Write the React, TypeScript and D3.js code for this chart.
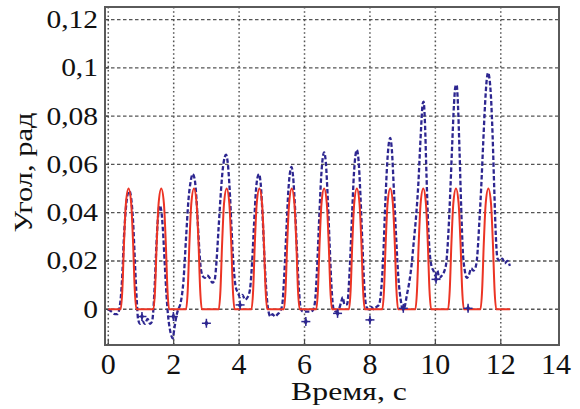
import React from "react";
import * as d3 from "d3";

const W = 580;
const H = 409;

const xTicks = [0, 2, 4, 6, 8, 10, 12, 14];
const xGrid = [0, 2, 4, 6, 8, 10, 12];
const yTicks = [0, 0.02, 0.04, 0.06, 0.08, 0.1, 0.12];
const yTickLabels = ["0", "0,02", "0,04", "0,06", "0,08", "0,1", "0,12"];
const xLabel = "Время, с";
const yLabel = "Угол, рад";

// reference signal (red)
const redSeries: [number, number][] = [
  [0, 0],
  [0.38, 0], [0.43, 0.008], [0.48, 0.027], [0.54, 0.044], [0.62, 0.05], [0.7, 0.044], [0.76, 0.027], [0.81, 0.008], [0.86, 0],
  [1.38, 0], [1.43, 0.008], [1.48, 0.027], [1.54, 0.044], [1.62, 0.05], [1.7, 0.044], [1.76, 0.027], [1.81, 0.008], [1.86, 0],
  [2.38, 0], [2.43, 0.008], [2.48, 0.027], [2.54, 0.044], [2.62, 0.05], [2.7, 0.044], [2.76, 0.027], [2.81, 0.008], [2.86, 0],
  [3.38, 0], [3.43, 0.008], [3.48, 0.027], [3.54, 0.044], [3.62, 0.05], [3.7, 0.044], [3.76, 0.027], [3.81, 0.008], [3.86, 0],
  [4.38, 0], [4.43, 0.008], [4.48, 0.027], [4.54, 0.044], [4.62, 0.05], [4.7, 0.044], [4.76, 0.027], [4.81, 0.008], [4.86, 0],
  [5.37, 0], [5.42, 0.008], [5.47, 0.027], [5.53, 0.044], [5.61, 0.05], [5.69, 0.044], [5.75, 0.027], [5.8, 0.008], [5.85, 0],
  [6.36, 0], [6.41, 0.008], [6.46, 0.027], [6.52, 0.044], [6.6, 0.05], [6.68, 0.044], [6.74, 0.027], [6.79, 0.008], [6.84, 0],
  [7.36, 0], [7.41, 0.008], [7.46, 0.027], [7.52, 0.044], [7.6, 0.05], [7.68, 0.044], [7.74, 0.027], [7.79, 0.008], [7.84, 0],
  [8.38, 0], [8.43, 0.008], [8.48, 0.027], [8.54, 0.044], [8.62, 0.05], [8.7, 0.044], [8.76, 0.027], [8.81, 0.008], [8.86, 0],
  [9.39, 0], [9.44, 0.008], [9.49, 0.027], [9.55, 0.044], [9.63, 0.05], [9.71, 0.044], [9.77, 0.027], [9.82, 0.008], [9.87, 0],
  [10.39, 0], [10.44, 0.008], [10.49, 0.027], [10.55, 0.044], [10.63, 0.05], [10.71, 0.044], [10.77, 0.027], [10.82, 0.008], [10.87, 0],
  [11.38, 0], [11.43, 0.008], [11.48, 0.027], [11.54, 0.044], [11.62, 0.05], [11.7, 0.044], [11.76, 0.027], [11.81, 0.008], [11.86, 0],
  [12.28, 0],
];

// measured signal (blue dashed)
const blueSeries: [number, number][] = [
  [0, 0], [0.1, -0.001], [0.2, -0.002], [0.28, -0.002], [0.36, 0.002], [0.42, 0.012], [0.48, 0.03], [0.54, 0.042], [0.6, 0.048], [0.65, 0.049], [0.7, 0.046], [0.76, 0.036], [0.82, 0.018], [0.87, 0.004], [0.91, -0.004], [0.97, -0.006], [1.05, -0.005], [1.12, -0.006], [1.2, -0.004], [1.28, -0.006], [1.34, -0.005], [1.38, 0.0],
  [1.42, 0.01], [1.47, 0.026], [1.52, 0.038], [1.57, 0.043], [1.62, 0.041], [1.67, 0.033], [1.73, 0.018], [1.78, 0.006], [1.83, -0.003], [1.88, -0.008], [1.93, -0.011], [1.97, -0.012], [2.02, -0.008], [2.08, -0.003], [2.14, 0.0], [2.2, 0.002],
  [2.3, 0.012], [2.38, 0.03], [2.45, 0.045], [2.52, 0.053], [2.58, 0.056], [2.64, 0.054], [2.7, 0.045], [2.76, 0.03], [2.82, 0.018], [2.88, 0.014], [2.95, 0.013], [3.02, 0.014], [3.1, 0.013], [3.18, 0.011], [3.25, 0.012], [3.31, 0.02],
  [3.37, 0.033], [3.44, 0.048], [3.5, 0.058], [3.56, 0.063], [3.6, 0.064], [3.65, 0.061], [3.71, 0.05], [3.77, 0.033], [3.83, 0.018], [3.9, 0.009], [3.96, 0.007], [4.03, 0.005], [4.1, 0.006], [4.18, 0.004], [4.26, 0.005], [4.33, 0.008],
  [4.4, 0.02], [4.46, 0.036], [4.52, 0.05], [4.57, 0.055], [4.61, 0.056], [4.66, 0.052], [4.72, 0.038], [4.78, 0.02], [4.84, 0.006], [4.9, -0.001], [4.96, -0.003], [5.02, -0.002], [5.1, -0.003], [5.18, -0.002], [5.25, -0.001], [5.32, 0.002],
  [5.38, 0.014], [5.45, 0.034], [5.51, 0.05], [5.56, 0.057], [5.6, 0.059], [5.65, 0.055], [5.71, 0.042], [5.77, 0.024], [5.83, 0.008], [5.89, 0.0], [5.96, -0.001], [6.05, -0.001], [6.15, -0.001], [6.25, -0.0005], [6.32, 0.003],
  [6.38, 0.016], [6.45, 0.038], [6.51, 0.055], [6.56, 0.063], [6.6, 0.065], [6.65, 0.061], [6.71, 0.046], [6.77, 0.026], [6.83, 0.008], [6.89, 0.0], [6.96, -0.001], [7.05, 0.0], [7.12, 0.003], [7.17, 0.005], [7.22, 0.002], [7.3, 0.002],
  [7.38, 0.016], [7.45, 0.038], [7.51, 0.056], [7.56, 0.064], [7.6, 0.066], [7.65, 0.062], [7.71, 0.047], [7.77, 0.027], [7.83, 0.009], [7.89, 0.001], [7.96, 0.0], [8.04, 0.001], [8.12, 0.0], [8.2, 0.001], [8.28, 0.002], [8.33, 0.006],
  [8.4, 0.02], [8.47, 0.044], [8.53, 0.061], [8.58, 0.069], [8.62, 0.071], [8.67, 0.066], [8.73, 0.05], [8.8, 0.03], [8.87, 0.013], [8.94, 0.004], [9.0, 0.0], [9.06, 0.001], [9.13, 0.006], [9.2, 0.011],
  [9.27, 0.018], [9.34, 0.028], [9.42, 0.04], [9.48, 0.052], [9.53, 0.066], [9.58, 0.079], [9.61, 0.085], [9.64, 0.086], [9.68, 0.078], [9.73, 0.055], [9.78, 0.035], [9.83, 0.023], [9.88, 0.018], [9.94, 0.016], [10.0, 0.014], [10.06, 0.016], [10.12, 0.013], [10.2, 0.014], [10.28, 0.016], [10.34, 0.02],
  [10.4, 0.032], [10.46, 0.05], [10.52, 0.07], [10.57, 0.085], [10.61, 0.092], [10.65, 0.093], [10.69, 0.085], [10.74, 0.065], [10.79, 0.042], [10.84, 0.024], [10.9, 0.016], [10.96, 0.013], [11.02, 0.014], [11.1, 0.017], [11.16, 0.016], [11.22, 0.017], [11.28, 0.022],
  [11.34, 0.035], [11.4, 0.05], [11.46, 0.068], [11.52, 0.085], [11.57, 0.095], [11.61, 0.098], [11.65, 0.096], [11.7, 0.088], [11.75, 0.072], [11.8, 0.05], [11.85, 0.03], [11.9, 0.021], [11.98, 0.02], [12.05, 0.021], [12.12, 0.019], [12.2, 0.02], [12.28, 0.018],
];

// sampled points (blue markers)
const markerPoints: [number, number][] = [
  [1.03, -0.003], [1.99, -0.003], [3.0, -0.0058], [4.03, 0.0018], [6.04, -0.0051],
  [7.01, -0.0017], [8.0, -0.0044], [9.02, 0.0004], [10.02, 0.0124], [11.0, 0.0004],
];

const PLOT = { left: 105, right: 559, top: 7, bottom: 345 };

const FONT = '"Liberation Serif", "Times New Roman", Times, serif';

export default function App() {
  const x = d3.scaleLinear().domain([-0.1, 13.78]).range([PLOT.left, PLOT.right]);
  const y = d3.scaleLinear().domain([-0.0148, 0.1252]).range([PLOT.bottom, PLOT.top]);

  const line = d3
    .line<[number, number]>()
    .x((d) => x(d[0]))
    .y((d) => y(d[1]))
    .curve(d3.curveMonotoneX);

  const gridColor = "#555";
  const blue = "#2d2690";
  const red = "#ec3424";
  const txt = { fontFamily: FONT };

  return (
    <svg
      width={W}
      height={H}
      style={{ position: "absolute", left: 0, top: 0, background: "#fff" }}
    >
      <rect x={0} y={0} width={W} height={H} fill="#fff" />
      {/* grid */}
      {yTicks.map((v) => (
        <line
          key={"hy" + v}
          x1={PLOT.left}
          x2={PLOT.right}
          y1={y(v)}
          y2={y(v)}
          stroke={gridColor}
          strokeWidth={1.3}
          strokeDasharray="3.5,2.5"
        />
      ))}
      {xGrid.map((t) => (
        <line
          key={"vx" + t}
          x1={x(t)}
          x2={x(t)}
          y1={PLOT.top}
          y2={PLOT.bottom}
          stroke={gridColor}
          strokeWidth={1.5}
          strokeDasharray="1.6,2.6"
        />
      ))}
      {/* inward ticks */}
      {yTicks.map((v) => (
        <line key={"ty" + v} x1={PLOT.left} x2={PLOT.left + 4} y1={y(v)} y2={y(v)} stroke="#444" strokeWidth={1.2} />
      ))}
      {xGrid.map((t) => (
        <line key={"tx" + t} x1={x(t)} x2={x(t)} y1={PLOT.bottom} y2={PLOT.bottom - 5} stroke="#444" strokeWidth={1.2} />
      ))}

      {/* blue dashed measured */}
      <path d={line(blueSeries) || ""} fill="none" stroke={blue} strokeWidth={2.3} strokeDasharray="4.5,2.3" />
      {/* red reference */}
      <path d={line(redSeries) || ""} fill="none" stroke={red} strokeWidth={2} />

      {/* markers */}
      {markerPoints.map((p, i) => {
        const cx = x(p[0]);
        const cy = y(p[1]);
        return (
          <g key={"m" + i} transform={`translate(${cx},${cy})`}>
            <line x1={-4.5} x2={4.5} y1={0} y2={0} stroke={blue} strokeWidth={1.5} />
            <line x1={0} x2={0} y1={-4.5} y2={4.5} stroke={blue} strokeWidth={1.5} />
            <path d={d3.symbol().type(d3.symbolDiamond).size(14)() || ""} fill={blue} />
          </g>
        );
      })}

      {/* frame */}
      <rect
        x={PLOT.left}
        y={PLOT.top}
        width={PLOT.right - PLOT.left}
        height={PLOT.bottom - PLOT.top}
        fill="none"
        stroke="#5a5a5a"
        strokeWidth={2}
      />

      {/* y tick labels */}
      {yTicks.map((v, i) => (
        <text
          key={"yl" + v}
          transform={`translate(98,${y(v) + 8.5}) scale(1.18,1)`}
          textAnchor="end"
          fontSize={25}
          fill="#111"
          style={txt}
        >
          {yTickLabels[i]}
        </text>
      ))}
      {/* x tick labels */}
      {xTicks.map((t) => (
        <text
          key={"xl" + t}
          x={Math.min(x(t), 556)}
          y={373.5}
          textAnchor="middle"
          fontSize={30}
          fill="#111"
          style={txt}
        >
          {String(t)}
        </text>
      ))}
      {/* axis titles */}
      <text transform="translate(349,399.5) scale(1.27,1)" textAnchor="middle" fontSize={25} fill="#111" style={txt}>
        {xLabel}
      </text>
      <text transform="translate(32,172.5) rotate(-90) scale(1.22,1)" textAnchor="middle" fontSize={25} fill="#111" style={txt}>
        {yLabel}
      </text>
    </svg>
  );
}
